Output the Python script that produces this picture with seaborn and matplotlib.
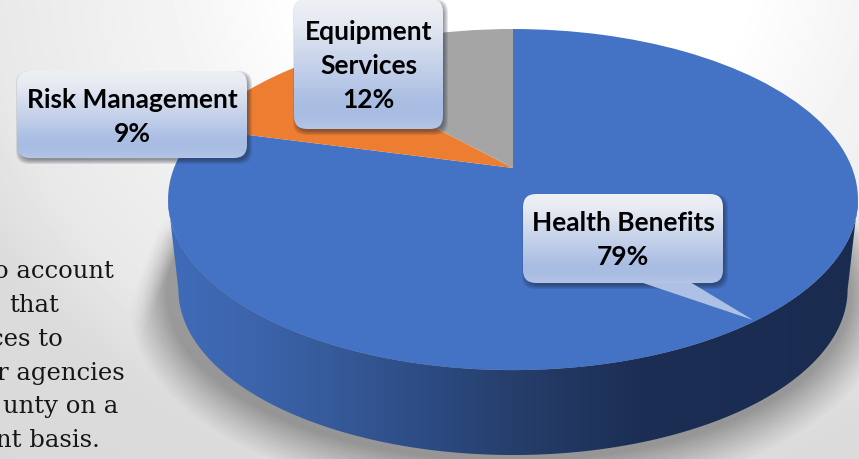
import numpy as np
import matplotlib
matplotlib.use("Agg")
import matplotlib.pyplot as plt
import matplotlib.colors as mcolors
from matplotlib.patches import FancyBboxPatch, Polygon
from matplotlib.transforms import Transform
import seaborn as sns

labels = ["Health Benefits", "Risk Management", "Equipment\nServices"]
shares = [79, 9, 12]
body_lines = ["o account", "that", "ces to", "r agencies", "unty on a", "nt basis."]

W, H = 859, 459
C_BLUE = "#4472c4"; C_ORANGE = "#ed7d31"; C_GREY = "#a5a5a5"

sns.set_theme(style="white", rc={"font.family": "Lato"})

# tilted disc: unit circle -> picture pixels (y=1 is the far edge)
CX, CY, RX, RY, K = 513, 168, 339, 164.7, 0.185
DROP, SHRINK = 91, 0.97

class Tilt(Transform):
    input_dims = output_dims = 2
    is_separable = False
    has_inverse = False
    def transform_non_affine(self, v):
        v = np.asarray(v, float)
        w = 1 + K * v[:, 1]
        return np.column_stack([CX + RX * v[:, 0] / w, CY - RY * v[:, 1] / w])

def rim(theta, scale=1.0, drop=0.0):
    pts = Tilt().transform_non_affine(np.column_stack([np.cos(theta), np.sin(theta)]))
    pts[:, 0] = CX + (pts[:, 0] - CX) * scale
    pts[:, 1] = CY + drop + (pts[:, 1] - CY) * scale
    return pts

fig = plt.figure(figsize=(W / 100, H / 100), dpi=100)
ax = fig.add_axes([0, 0, 1, 1])
ax.axis("off")

# ── background + soft shadow ──────────────────────────────
yy, xx = np.mgrid[0:H, 0:W] + 0.5
r_bg = np.hypot((xx - 520) / 560, (yy + 30) / 480)
bg = np.interp(r_bg, [0.4, 0.6, 0.95, 1.1, 1.4], [1, 0.96, 0.91, 0.86, 0.85])
ax.imshow(bg, cmap="gray", vmin=0, vmax=1, extent=(0, W, H, 0), aspect="auto", zorder=0)

sx, sy, srx, sry = 509, 293, 342, 168
u, v = (xx - sx) / srx, (yy - sy) / sry
r_s = np.hypot(u, v)
grad = np.hypot(u / srx, v / sry) / np.maximum(r_s, 1e-6)
dist = (r_s - 1) / np.maximum(grad, 1e-6)
alpha = 0.34 * np.clip(1 - dist / 42, 0, 1) ** 1.1
# shadow is cut off along a slanted line on the upper left
edge = (xx - 170) * 88 + (yy - 232) * 35
alpha *= np.clip(edge / 2500 + 0.5, 0, 1)
alpha *= np.clip((yy - 215) / 20, 0, 1)
shadow = np.zeros((H, W, 4))
shadow[..., 3] = alpha
ax.imshow(shadow, extent=(0, W, H, 0), aspect="auto", zorder=1)

# ── side of the disc, dark to the right ───────────────────
a0 = np.pi + np.arcsin(K)
th = np.linspace(a0, 3 * np.pi - a0, 200)
side = Polygon(np.vstack([rim(th), rim(th[::-1], SHRINK, DROP)]), closed=True,
               transform=ax.transData, fc="none", ec="none")
ax.add_patch(side)
stop_x = [170, 250, 330, 430, 510, 640, 860]
stop_c = ["#3f6bb8", "#3c65ad", "#365a9a", "#2d4b83", "#263f6c", "#1c2e54", "#1a2b50"]
stop_rgb = np.array([mcolors.to_rgb(c) for c in stop_c])
xs = np.arange(W) + 0.5
side_img = np.stack([np.interp(xs, stop_x, stop_rgb[:, i]) for i in range(3)], axis=-1)[None, ...]
im = ax.imshow(side_img, extent=(0, W, H, 0), aspect="auto", zorder=2)
im.set_clip_path(side)

# ── top of the disc ───────────────────────────────────────
wedges, _ = ax.pie(shares, colors=sns.color_palette([C_BLUE, C_ORANGE, C_GREY]),
                   startangle=90, counterclock=False, radius=1, center=(0, 0),
                   wedgeprops={"linewidth": 0, "zorder": 3})
tilt = Tilt()
for w in wedges:
    w.set_transform(tilt + ax.transData)

ax.set_aspect("auto")
ax.set_xlim(0, W)
ax.set_ylim(H, 0)

# ── callouts ──────────────────────────────────────────────
box_grad = np.interp(np.linspace(0, 1, 100), [0, 0.15, 0.8, 0.9, 1], [0, 0.1, 1, 1, 0.85])
box_top, box_low = np.array(mcolors.to_rgb("#eef0f4")), np.array(mcolors.to_rgb("#a9bde3"))
box_img = (box_top[None, :] + box_grad[:, None] * (box_low - box_top))[:, None, :]

def callout(x0, y0, x1, y1, text, cy, tail=None):
    rad = 13
    if tail is not None:
        ax.add_patch(Polygon(tail, closed=True, fc="#aec1e5", ec="none", zorder=6))
    for i in range(6):
        ax.add_patch(FancyBboxPatch((x0 + rad + 2, y0 + rad + 3), x1 - x0 - 2 * rad, y1 - y0 - 2 * rad,
                                    boxstyle=f"round,pad={rad + 3 - i * 0.8},rounding_size={rad}",
                                    fc="#1a2030", ec="none", alpha=0.09, zorder=5))
    box = FancyBboxPatch((x0 + rad, y0 + rad), x1 - x0 - 2 * rad, y1 - y0 - 2 * rad,
                         boxstyle=f"round,pad={rad},rounding_size={rad}", fc="none", ec="none", zorder=7)
    ax.add_patch(box)
    img = ax.imshow(box_img, extent=(x0, x1, y1, y0), aspect="auto", zorder=7)
    img.set_clip_path(box)
    ax.text((x0 + x1) / 2, cy, text, ha="center", va="center", color="black", fontsize=19,
            fontweight="bold", family="Lato", linespacing=1.52, zorder=8)

callout(523, 194, 723, 283, f"{labels[0]}\n{shares[0]}%", 240,
        tail=[(640, 282), (690, 282), (753, 320)])
callout(17, 71, 247, 158, f"{labels[1]}\n{shares[1]}%", 117)
callout(294, -1, 443, 129, f"{labels[2]}\n{shares[2]}%", 66)

ax.set_xlim(0, W)
ax.set_ylim(H, 0)

# ── cropped body text on the left ─────────────────────────
right_ends = [114, 59, 63, 125, 118, 100]
for i, (line, xr) in enumerate(zip(body_lines, right_ends)):
    ax.text(xr, 272 + i * 33.7, line, ha="right", va="center", fontsize=17.5,
            family="DejaVu Serif", color="#161616", zorder=4)

fig.savefig("out.png", dpi=100)
